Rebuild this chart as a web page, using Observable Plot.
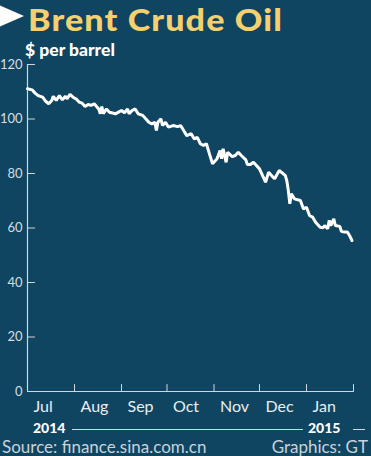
<!DOCTYPE html>
<html><head><meta charset="utf-8">
<script src="https://cdn.jsdelivr.net/npm/d3@7"></script>
<script src="https://cdn.jsdelivr.net/npm/@observablehq/plot@0.6"></script>
<style>
html,body{margin:0;padding:0;background:#0f4561;}
#wrap{position:relative;width:371px;height:456px;background:#0f4561;overflow:hidden;font-family:Lato,sans-serif;}
#tri{position:absolute;left:-6px;top:3px;width:0;height:0;border-top:13px solid transparent;border-bottom:13px solid transparent;border-left:30px solid #ffffff;}
#title{position:absolute;left:28px;top:3.5px;font-weight:900;font-size:31px;line-height:31px;letter-spacing:1px;color:#f4d06f;white-space:nowrap;transform:scaleX(1.1);transform-origin:0 0;}
#sub{position:absolute;left:25px;top:41px;font-weight:900;font-size:17.5px;line-height:17.5px;color:#ffffff;white-space:nowrap;}
#chart{position:absolute;left:0;top:50px;}
.yr{position:absolute;top:421px;font-weight:900;font-size:14px;line-height:14px;color:#ffffff;}
.ln{position:absolute;top:429px;height:1px;background:#cfd8de;}
#src{position:absolute;left:2px;top:438px;font-size:17px;line-height:17px;color:#c9d3da;white-space:nowrap;}
#gfx{position:absolute;right:3px;top:438px;font-size:17px;line-height:17px;color:#c9d3da;white-space:nowrap;}
</style></head>
<body>
<div id="wrap">
  <div id="tri"></div>
  <div id="title">Brent Crude Oil</div>
  <div id="sub">$ per barrel</div>
  <div id="chart"></div>
  <div class="yr" style="left:33px">2014</div>
  <div class="ln" style="left:72px;width:231px"></div>
  <div class="yr" style="left:308px">2015</div>
  <div class="ln" style="left:353px;width:12px"></div>
  <div id="src">Source: finance.sina.com.cn</div>
  <div id="gfx">Graphics: GT</div>
</div>
<script>
const dates = ["2014-07-01","2014-07-04","2014-07-06","2014-07-08","2014-07-11","2014-07-13","2014-07-15","2014-07-17","2014-07-18","2014-07-20",
"2014-07-22","2014-07-24","2014-07-26","2014-07-27","2014-07-29","2014-07-31","2014-08-02","2014-08-04","2014-08-06","2014-08-08",
"2014-08-10","2014-08-12","2014-08-14","2014-08-17","2014-08-18","2014-08-19","2014-08-20","2014-08-22","2014-08-24","2014-08-28",
"2014-08-30","2014-09-01","2014-09-03","2014-09-05","2014-09-06","2014-09-08","2014-09-10","2014-09-12","2014-09-15","2014-09-17",
"2014-09-19","2014-09-21","2014-09-23","2014-09-24","2014-09-25","2014-09-27","2014-09-28","2014-09-30","2014-10-02","2014-10-05",
"2014-10-08","2014-10-10","2014-10-12","2014-10-14","2014-10-17","2014-10-19","2014-10-21","2014-10-23","2014-10-25","2014-10-27",
"2014-10-29","2014-10-31","2014-11-02","2014-11-03","2014-11-05","2014-11-06","2014-11-07","2014-11-09","2014-11-10","2014-11-13",
"2014-11-15","2014-11-17","2014-11-19","2014-11-22","2014-11-23","2014-11-25","2014-11-27","2014-11-29","2014-12-01","2014-12-05",
"2014-12-07","2014-12-10","2014-12-11","2014-12-14","2014-12-18","2014-12-19","2014-12-20","2014-12-21","2014-12-22","2014-12-24",
"2014-12-28","2014-12-30","2015-01-01","2015-01-03","2015-01-05","2015-01-07","2015-01-10","2015-01-12","2015-01-13","2015-01-15",
"2015-01-16","2015-01-17","2015-01-19","2015-01-20","2015-01-23","2015-01-24","2015-01-26","2015-01-28","2015-01-30","2015-01-31"];
const prices = [111.1,110.7,109.5,108.6,108.0,106.5,105.6,106.8,108.3,106.8,
108.6,107.0,108.4,107.4,109.0,108.0,107.4,106.2,105.8,104.6,
105.3,105.0,105.6,103.7,101.9,104.6,101.9,103.7,102.5,101.9,
102.5,103.1,102.3,103.7,101.9,103.1,103.7,101.9,101.3,100.1,
98.8,98.2,98.8,95.8,98.8,100.1,97.6,98.8,97.0,97.6,
97.2,97.6,95.8,93.9,94.6,92.7,93.3,90.9,90.3,90.9,
87.2,83.6,84.8,85.4,88.4,85.4,89.1,84.1,87.8,86.2,
86.6,87.8,86.6,85.0,83.3,83.3,84.1,82.9,81.7,76.8,
80.5,78.6,78.1,81.1,79.3,77.4,73.8,68.9,72.6,70.7,
70.1,67.0,67.6,64.6,64.0,62.1,60.3,60.1,60.9,59.7,
62.8,60.9,63.4,60.9,60.6,58.8,58.5,58.5,56.6,55.4];
const monthStarts = ["2014-07-01","2014-08-01","2014-09-01","2014-10-01","2014-11-01","2014-12-01","2015-01-01","2015-02-01"];
const monthLabels = ["Jul","Aug","Sep","Oct","Nov","Dec","Jan"];
const yTicks = [0,20,40,60,80,100,120];

const data = dates.map((d,i) => ({date: new Date(d), price: prices[i]}));
const mStarts = monthStarts.map(d => new Date(d));
const labelData = monthLabels.map((t,i) => ({date: mStarts[i], label: t}));
const axisColor = "#cfd8de";
const tickShape = {draw(ctx, l){ ctx.moveTo(0,0); ctx.lineTo(0,-l); }};

const chart = Plot.plot({
  width: 371, height: 370,
  marginTop: 14, marginBottom: 29, marginLeft: 27, marginRight: 18,
  style: {background: "transparent", color: "#e6ecef", fontFamily: "Lato, sans-serif"},
  x: {type: "utc", domain: [mStarts[0], mStarts[mStarts.length-1]], axis: null},
  y: {domain: [0, 120], axis: null},
  marks: [
    Plot.axisY(yTicks, {tickSize: 0, tickPadding: 5, fontSize: 13, fill: "#d6dee3", tickFormat: d => d, label: null}),
    Plot.vector(yTicks, {x: () => mStarts[0], y: d => d, length: 7, rotate: 90, anchor: "start", shape: tickShape, stroke: axisColor, strokeWidth: 1}),
    Plot.vector(mStarts, {x: d => d, y: () => 0, length: 7, rotate: 0, anchor: "start", shape: tickShape, stroke: axisColor, strokeWidth: 1}),
    Plot.ruleX([mStarts[0]], {stroke: axisColor, strokeWidth: 1.2}),
    Plot.ruleY([0], {stroke: axisColor, strokeWidth: 1.2}),
    Plot.text(labelData, {x: "date", y: () => 0, text: "label", dx: 6, dy: 15, textAnchor: "start", fontSize: 16, fill: "#e8eef1"}),
    Plot.line(data, {x: "date", y: "price", stroke: "#ffffff", strokeWidth: 3, strokeLinejoin: "miter"})
  ]
});
document.getElementById("chart").appendChild(chart);
</script>
</body></html>
